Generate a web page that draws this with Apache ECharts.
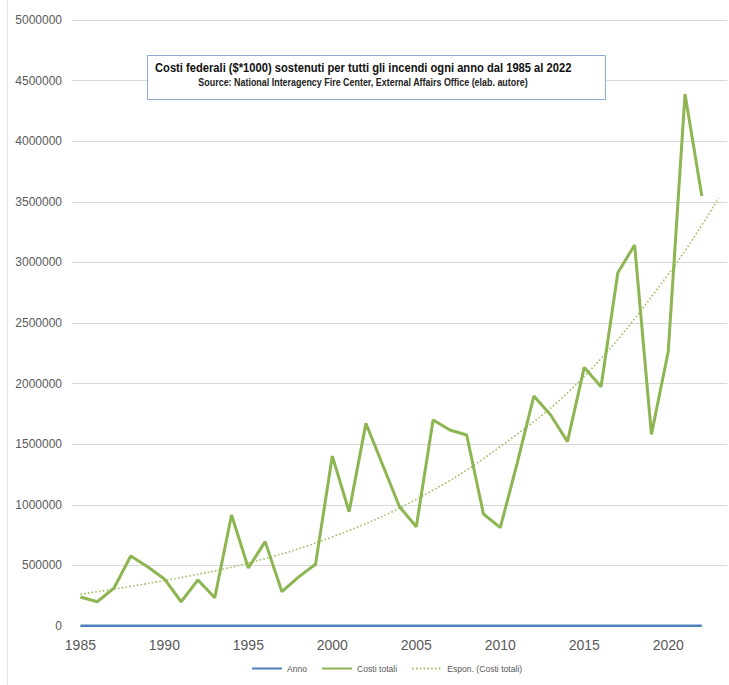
<!DOCTYPE html>
<html>
<head>
<meta charset="utf-8">
<script src="https://cdn.jsdelivr.net/npm/echarts@6/dist/echarts.min.js"></script>
<style>html,body{margin:0;padding:0;background:#fff}#c{width:729px;height:685px}</style>
</head>
<body>
<div id="c"></div>
<script>
const years = [1985,1986,1987,1988,1989,1990,1991,1992,1993,1994,1995,1996,1997,1998,1999,2000,2001,2002,2003,2004,2005,2006,2007,2008,2009,2010,2011,2012,2013,2014,2015,2016,2017,2018,2019,2020,2021,2022];
const costiTotali = [239000,200000,313000,577000,489000,388000,200000,380000,233000,916000,479000,696000,283000,405000,509000,1402000,943000,1672000,1328000,984000,819000,1700000,1617000,1576000,924000,811000,1339000,1897000,1741000,1521000,2134000,1974000,2915000,3143000,1581000,2263000,4389000,3548000];
const trendYears = [1985,1990,1995,2000,2005,2010,2015,2020,2023];
const trendValues = [262000,375000,520000,735000,1045000,1480000,2060000,2900000,3530000];
const xTickLabels = [1985,1990,1995,2000,2005,2010,2015,2020];
const yTickValues = [0,500000,1000000,1500000,2000000,2500000,3000000,3500000,4000000,4500000,5000000];
const titleText = 'Costi federali ($*1000) sostenuti per tutti gli incendi ogni anno dal 1985 al 2022';
const subtitleText = 'Source: National Interagency Fire Center, External Affairs Office (elab. autore)';
const seriesNames = ['Anno','Costi totali','Espon. (Costi totali)'];

const sans = "'Liberation Sans',Arial,sans-serif";
const titleFont = "bold 13px " + sans;
const subFont = "bold 10px " + sans;
const ctx = document.createElement('canvas').getContext('2d');
function fitScale(text, font, target){ ctx.font = font; return target / ctx.measureText(text).width; }
const titleScale = fitScale(titleText, titleFont, 417);
const subScale = fitScale(subtitleText, subFont, 330);

const chart = echarts.init(document.getElementById('c'), null, {renderer:'svg'});
chart.setOption({
  animation:false,
  backgroundColor:'#ffffff',
  grid:{left:72,right:2,top:20,bottom:59,containLabel:false},
  xAxis:{
    type:'value', min:1984.5, max:2023.5,
    axisLine:{show:false}, axisTick:{show:false}, splitLine:{show:false},
    axisLabel:{customValues:xTickLabels, color:'#595959', fontSize:14, margin:12,
      fontFamily:sans, formatter:v=>String(v)}
  },
  yAxis:{
    type:'value', min:yTickValues[0], max:yTickValues[yTickValues.length-1], interval:500000,
    axisLine:{show:false}, axisTick:{show:false},
    splitLine:{show:true, showMinLine:false, lineStyle:{color:'#d9d9d9',width:1}},
    axisLabel:{color:'#595959', fontSize:12, margin:10, fontFamily:sans, formatter:v=>String(v)}
  },
  legend:{
    left:246, top:659, itemWidth:30, itemHeight:6, itemGap:14,
    itemStyle:{color:'transparent', borderColor:'transparent', borderWidth:0, opacity:0},
    textStyle:{color:'#595959', fontSize:8.6, fontFamily:sans},
    data:seriesNames
  },
  series:[
    {name:seriesNames[0], type:'line', symbol:'none', data:years.map((y,i)=>[y, years[i]]),
      lineStyle:{color:'#4f81bd', width:2.5}, itemStyle:{color:'#4f81bd'}, z:3},
    {name:seriesNames[1], type:'line', symbol:'none', data:years.map((y,i)=>[y, costiTotali[i]]),
      lineStyle:{color:'#8db552', width:3}, itemStyle:{color:'#8db552'}, z:4},
    {name:seriesNames[2], type:'line', symbol:'none', smooth:0.4,
      data:trendYears.map((y,i)=>[y, trendValues[i]]),
      lineStyle:{color:'#9cbf62', width:1.6, type:[1.6,2.2]}, itemStyle:{color:'#9cbf62'}, z:2}
  ],
  graphic:[
    {type:'line', shape:{x1:7.5,y1:0,x2:7.5,y2:685}, style:{stroke:'#e3e3e3', lineWidth:1}, silent:true},
    {type:'rect', shape:{x:147.5,y:55.5,width:458,height:44}, style:{fill:'#ffffff', stroke:'#8eaad6', lineWidth:1}, z:100},
    {type:'text', x:155, y:68, scaleX:titleScale, z:101, style:{text:titleText, fill:'#111111', font:titleFont, textVerticalAlign:'middle', textAlign:'left'}},
    {type:'text', x:363, y:82.5, scaleX:subScale, z:101, style:{text:subtitleText, fill:'#222222', font:subFont, textVerticalAlign:'middle', textAlign:'center'}}
  ]
});
</script>
</body>
</html>
